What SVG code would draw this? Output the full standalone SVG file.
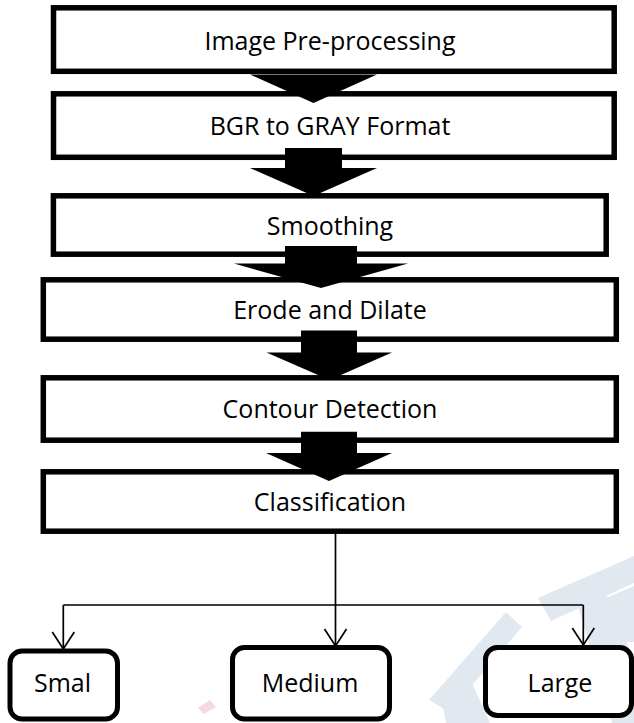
<svg xmlns="http://www.w3.org/2000/svg" width="634" height="723" viewBox="0 0 634 723">
<style>
.box{fill:#fff;stroke:#000;stroke-width:5.5}
.rbox{fill:#fff;stroke:#000;stroke-width:5}
.lbl{font-family:"Open Sans","Liberation Sans",sans-serif;font-size:25px;fill:#000;text-anchor:middle}
.big{fill:#000;stroke:none}
.thin{fill:none;stroke:#000;stroke-width:1.7}
.wm{fill:#e2e8f0;stroke:none}
</style>
<defs>
<marker id="vhead" markerUnits="userSpaceOnUse" markerWidth="24" markerHeight="28" viewBox="-20 -14 24 28" refX="0" refY="0" orient="auto">
<path d="M-17,-11 L0,0 L-17,11" fill="none" stroke="#000" stroke-width="1.7"/>
</marker>
</defs>
<g id="watermark">
<polygon class="wm" points="538,598 634,556 634,583 551,621"/>
<polygon class="wm" points="597,602 634,586 634,642 610,642"/>
<polygon class="wm" points="578,606 606,594 634,660 634,723 612,723"/>
<polygon class="wm" points="429,700 506,612 522,627 449,712"/>
<polygon class="wm" points="440,692 468,674 490,723 446,723"/>
<polygon fill="#f6d9dc" points="198,708 210,700 216,707 204,714"/>
</g>
<g id="nodes">
<g id="n1"><rect class="box" x="53.5" y="7.8" width="560.7" height="63.5"/><text class="lbl" x="330" y="49.5">Image Pre-processing</text></g>
<g id="n2"><rect class="box" x="53.5" y="93.8" width="560.7" height="63.5"/><text class="lbl" x="330" y="134.5">BGR to GRAY Format</text></g>
<g id="n3"><rect class="box" x="53.4" y="195.8" width="552.8" height="58.4"/><text class="lbl" x="330" y="234.5">Smoothing</text></g>
<g id="n4"><rect class="box" x="43.3" y="279.8" width="573" height="59.4"/><text class="lbl" x="330" y="319">Erode and Dilate</text></g>
<g id="n5"><rect class="box" x="43.3" y="377.8" width="573" height="62.4"/><text class="lbl" x="330" y="417.5">Contour Detection</text></g>
<g id="n6"><rect class="box" x="43.3" y="471.8" width="573" height="59.4"/><text class="lbl" x="330" y="511">Classification</text></g>
<g id="n7"><rect class="rbox" x="10" y="651" width="107.5" height="68" rx="12"/><text class="lbl" x="62.5" y="691.5">Smal</text></g>
<g id="n8"><rect class="rbox" x="232.5" y="647.5" width="157" height="71.5" rx="12"/><text class="lbl" x="310" y="691.5">Medium</text></g>
<g id="n9"><rect class="rbox" x="485.5" y="647.5" width="146" height="68" rx="12"/><text class="lbl" x="560" y="691.5">Large</text></g>
</g>
<g id="connectors">
<polygon class="big" points="250,74.5 377,74.5 313.5,103"/>
<polygon class="big" points="285,148 342,148 342,168 377,168 313.5,196 250,168 285,168"/>
<polygon class="big" points="285,246 357,246 357,263.5 408,263.5 321,288 234,263.5 285,263.5"/>
<polygon class="big" points="301,330.5 357,330.5 357,352.5 392,352.5 329.5,380 266.5,352.5 301,352.5"/>
<polygon class="big" points="301,431.7 357,431.7 357,453 392,453 329,481 266,453 301,453"/>
<path class="thin" d="M335.5,534 V605 M63.3,605 H583.3"/>
<path class="thin" d="M63.3,605 V649" marker-end="url(#vhead)"/>
<path class="thin" d="M335.5,605 V646" marker-end="url(#vhead)"/>
<path class="thin" d="M583.3,605 V645" marker-end="url(#vhead)"/>
</g>
</svg>
